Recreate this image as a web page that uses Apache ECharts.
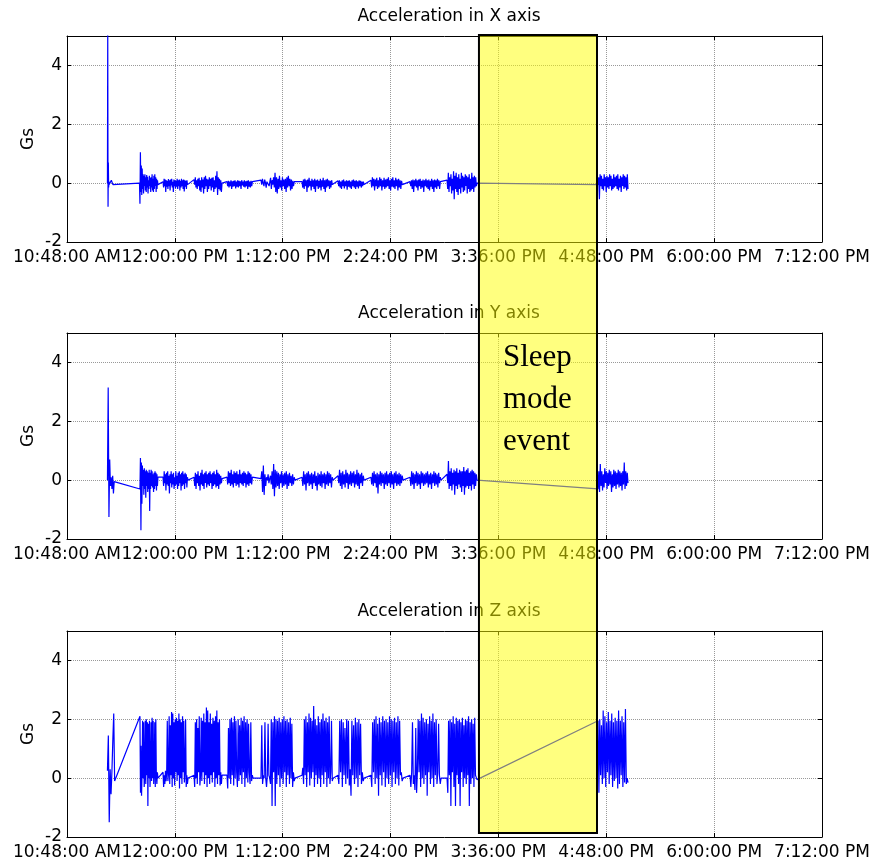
<!DOCTYPE html>
<html>
<head>
<meta charset="utf-8">
<script src="https://cdn.jsdelivr.net/npm/echarts@6/dist/echarts.min.js"></script>
<style>html,body{margin:0;padding:0;background:#fff}#c{width:880px;height:865px}</style>
</head>
<body>
<div id="c"></div>
<script>
// time axis: minutes after 10:48 AM
const tickLabels = ['10:48:00 AM','12:00:00 PM','1:12:00 PM','2:24:00 PM','3:36:00 PM','4:48:00 PM','6:00:00 PM','7:12:00 PM'];
const panelTitles = ['Acceleration in X axis','Acceleration in Y axis','Acceleration in Z axis'];
const yTicks = [-2, 0, 2, 4];
const sleepWindow = [275, 353.8];
const sleepText = 'Sleep\nmode\nevent';

// segments: [startMinute, endMinute, samples]
const xSegs = [
  [27.0, 28.2, [0, 5.3, -0.8, 0.7, -0.15, 0.05, -0.05]],
  [29.6, 31.2, [0.1, 0.05, -0.05, 0.0]],
  [48.4, 60.7, [0.0, -0.7, 1.05, -0.3, 0.6, -0.4, 0.5, -0.2, 0.3, -0.35, 0.25, -0.1, 0.3, -0.25, 0.2, -0.3, 0.28, -0.15, 0.22, -0.35, 0.1, -0.2, 0.25, -0.1, 0.18, -0.3, 0.2, -0.15, 0.3, -0.25, 0.15, -0.3, 0.25, -0.2, 0.3, -0.1, 0.2, -0.3, 0.15, -0.2, 0.1, -0.05]],
  [64.1, 80.8, [0.05, -0.15, 0.15, -0.1, 0.12, -0.3, 0.1, -0.12, 0.08, -0.2, 0.14, -0.1, 0.1, -0.25, 0.12, -0.08, 0.15, -0.15, 0.05, -0.3, 0.12, -0.1, 0.1, -0.18, 0.08, -0.12, 0.15, -0.2, 0.1, -0.1, 0.12, -0.25, 0.08, -0.15, 0.15, -0.1, 0.1, -0.2, 0.12, -0.28, 0.1, -0.12, 0.08, -0.2, 0.1, -0.05, 0.0]],
  [84.8, 103.5, [0.12, -0.05, 0.2, -0.15, 0.1, -0.2, 0.15, -0.1, 0.18, -0.25, 0.1, -0.3, 0.2, -0.15, 0.12, -0.35, 0.2, -0.2, 0.25, -0.1, 0.15, -0.3, 0.12, -0.2, 0.2, -0.1, 0.15, -0.25, 0.18, -0.15, 0.2, -0.3, 0.1, -0.2, 0.25, -0.15, 0.4, -0.4, 0.2, -0.2, 0.15, -0.25, 0.1, -0.3, 0.0]],
  [106.8, 124.2, [0.05, -0.1, 0.08, -0.15, 0.05, -0.1, 0.1, -0.2, 0.06, -0.12, 0.08, -0.1, 0.1, -0.18, 0.05, -0.12, 0.1, -0.15, 0.08, -0.1, 0.06, -0.2, 0.1, -0.08, 0.05, -0.12, 0.1, -0.15, 0.06, -0.1, 0.08, -0.2, 0.1, -0.12, 0.05, -0.15, 0.08, -0.1, 0.05, 0.0]],
  [129.5, 152.2, [0.1, -0.05, 0.15, 0.0, -0.1, 0.12, 0.02, -0.15, 0.05, 0.0, 0.1, -0.1, 0.05, 0.18, -0.2, 0.1, -0.05, 0.2, -0.15, 0.35, -0.3, 0.2, -0.35, 0.15, -0.2, 0.25, -0.15, 0.1, -0.25, 0.2, -0.1, 0.12, -0.2, 0.15, -0.3, 0.2, -0.15, 0.25, -0.1, 0.15, -0.25, 0.12, -0.2, 0.08, -0.1, 0.05, 0.0]],
  [156.9, 177.6, [0.05, -0.15, 0.12, -0.2, 0.15, -0.1, 0.1, -0.3, 0.12, -0.15, 0.18, -0.1, 0.08, -0.25, 0.15, -0.12, 0.1, -0.2, 0.15, -0.3, 0.1, -0.1, 0.12, -0.2, 0.08, -0.15, 0.15, -0.25, 0.1, -0.12, 0.18, -0.2, 0.1, -0.3, 0.12, -0.15, 0.15, -0.1, 0.1, -0.2, 0.08, -0.15, 0.1, -0.05, 0.0]],
  [180.9, 198.3, [0.08, -0.1, 0.1, -0.15, 0.05, -0.2, 0.1, -0.1, 0.12, -0.18, 0.06, -0.1, 0.1, -0.22, 0.08, -0.12, 0.1, -0.15, 0.05, -0.2, 0.1, -0.1, 0.12, -0.15, 0.08, -0.2, 0.1, -0.12, 0.06, -0.18, 0.1, -0.1, 0.08, -0.15, 0.05, -0.1, 0.05, -0.05]],
  [202.9, 224.3, [0.1, -0.15, 0.2, -0.1, 0.15, -0.25, 0.12, -0.1, 0.18, -0.2, 0.1, -0.15, 0.2, -0.1, 0.15, -0.25, 0.1, -0.12, 0.18, -0.2, 0.12, -0.15, 0.15, -0.1, 0.2, -0.2, 0.1, -0.25, 0.15, -0.12, 0.2, -0.15, 0.1, -0.2, 0.18, -0.1, 0.12, -0.25, 0.15, -0.15, 0.1, -0.2, 0.08, -0.05, 0.0]],
  [229.0, 249.7, [0.05, -0.1, 0.1, -0.2, 0.12, -0.3, 0.1, -0.1, 0.15, -0.15, 0.1, -0.25, 0.12, -0.1, 0.15, -0.2, 0.08, -0.15, 0.12, -0.3, 0.1, -0.1, 0.15, -0.15, 0.1, -0.2, 0.12, -0.25, 0.08, -0.12, 0.15, -0.2, 0.1, -0.3, 0.12, -0.15, 0.1, -0.2, 0.15, -0.1, 0.1, -0.2, 0.05, 0.0]],
  [253.7, 273.7, [0.1, -0.2, 0.35, -0.3, 0.2, -0.1, 0.3, -0.35, 0.15, -0.25, 0.4, -0.55, 0.25, -0.2, 0.35, -0.3, 0.2, -0.4, 0.3, -0.2, 0.15, -0.35, 0.35, -0.15, 0.25, -0.3, 0.2, -0.25, 0.3, -0.1, 0.25, -0.35, 0.2, -0.2, 0.3, -0.3, 0.15, -0.25, 0.35, -0.2, 0.2, -0.3, 0.25, -0.15, 0.2, -0.1, 0.0]],
  [354.5, 374.5, [-0.05, 0.2, -0.55, 0.3, -0.1, 0.25, -0.2, 0.15, -0.25, 0.3, -0.1, 0.2, -0.3, 0.25, -0.15, 0.2, -0.2, 0.3, -0.1, 0.25, -0.25, 0.15, -0.2, 0.3, -0.15, 0.2, -0.1, 0.25, -0.2, 0.3, -0.25, 0.15, -0.15, 0.25, -0.3, 0.2, -0.1, 0.3, -0.2, 0.25, -0.15, 0.2, -0.25, 0.3, -0.2]]
];

const ySegs = [
  [27.0, 31.5, [0, 3.15, -1.25, 0.7, -0.2, 0.1, -0.3, 0.15, -0.45, -0.05]],
  [48.7, 60.7, [-0.3, 0.75, -1.7, 0.6, -0.8, 0.5, -0.2, 0.35, -0.5, 0.4, -0.3, 0.3, -0.6, 0.35, -0.2, 0.3, -0.4, 0.25, -0.3, 0.35, -1.05, 0.25, -0.3, 0.35, -0.2, 0.3, -0.25, 0.2, -0.4, 0.25, -0.3, 0.3, -0.2, 0.25, -0.35, 0.2, -0.2, 0.1]],
  [64.1, 80.8, [0.1, -0.2, 0.3, -0.1, 0.2, -0.35, 0.25, -0.15, 0.3, -0.2, 0.15, -0.45, 0.2, -0.1, 0.3, -0.25, 0.2, -0.15, 0.25, -0.3, 0.1, -0.2, 0.3, -0.15, 0.15, -0.3, 0.25, -0.2, 0.3, -0.1, 0.2, -0.35, 0.25, -0.2, 0.3, -0.15, 0.2, -0.3, 0.25, -0.1, 0.2, -0.25, 0.1, 0.0]],
  [84.8, 103.5, [0.1, -0.2, 0.25, -0.3, 0.2, -0.1, 0.3, -0.2, 0.15, -0.35, 0.25, -0.15, 0.35, -0.2, 0.2, -0.3, 0.25, -0.1, 0.3, -0.25, 0.2, -0.15, 0.25, -0.2, 0.3, -0.1, 0.2, -0.3, 0.25, -0.2, 0.3, -0.15, 0.2, -0.25, 0.35, -0.2, 0.25, -0.3, 0.2, -0.15, 0.15, -0.1, 0.05]],
  [106.8, 124.2, [0.1, -0.15, 0.3, -0.1, 0.25, -0.2, 0.35, -0.15, 0.2, -0.25, 0.3, -0.1, 0.25, -0.2, 0.3, -0.15, 0.2, -0.25, 0.35, -0.1, 0.2, -0.15, 0.25, -0.2, 0.3, -0.1, 0.25, -0.25, 0.2, -0.15, 0.3, -0.2, 0.25, -0.1, 0.2, -0.15, 0.1, 0.05]],
  [129.5, 152.2, [0.05, 0.3, -0.4, 0.5, -0.5, 0.2, -0.2, 0.1, 0.0, 0.2, -0.1, 0.05, 0.15, -0.15, 0.3, -0.3, 0.55, -0.55, 0.35, -0.25, 0.3, -0.2, 0.25, -0.3, 0.2, -0.1, 0.3, -0.25, 0.2, -0.2, 0.25, -0.15, 0.3, -0.3, 0.2, -0.2, 0.25, -0.1, 0.15, -0.2, 0.2, -0.15, 0.1, 0.0]],
  [156.9, 177.6, [0.1, -0.2, 0.3, -0.15, 0.2, -0.35, 0.25, -0.1, 0.3, -0.2, 0.2, -0.15, 0.25, -0.3, 0.2, -0.1, 0.3, -0.2, 0.15, -0.35, 0.25, -0.15, 0.2, -0.2, 0.3, -0.25, 0.2, -0.1, 0.25, -0.3, 0.2, -0.15, 0.3, -0.2, 0.25, -0.1, 0.2, -0.25, 0.1, 0.0]],
  [180.9, 198.3, [0.15, -0.1, 0.35, -0.2, 0.25, -0.3, 0.3, -0.15, 0.2, -0.25, 0.35, -0.1, 0.25, -0.3, 0.2, -0.15, 0.3, -0.2, 0.25, -0.1, 0.3, -0.25, 0.2, -0.15, 0.35, -0.2, 0.25, -0.3, 0.2, -0.1, 0.25, -0.2, 0.15, 0.0]],
  [202.9, 224.3, [0.1, -0.15, 0.25, -0.2, 0.3, -0.1, 0.2, -0.25, 0.25, -0.45, 0.2, -0.15, 0.3, -0.2, 0.25, -0.1, 0.2, -0.3, 0.25, -0.15, 0.3, -0.2, 0.2, -0.1, 0.25, -0.25, 0.3, -0.15, 0.2, -0.3, 0.25, -0.1, 0.3, -0.2, 0.2, -0.15, 0.25, -0.2, 0.2, -0.1, 0.15, 0.0]],
  [229.0, 249.7, [0.1, -0.2, 0.3, -0.15, 0.25, -0.3, 0.2, -0.1, 0.3, -0.2, 0.25, -0.15, 0.2, -0.3, 0.3, -0.1, 0.25, -0.2, 0.2, -0.15, 0.25, -0.1, 0.3, -0.25, 0.2, -0.15, 0.25, -0.3, 0.2, -0.1, 0.3, -0.2, 0.25, -0.15, 0.2, -0.25, 0.25, -0.1, 0.1, 0.0]],
  [253.7, 273.7, [0.2, -0.1, 0.65, -0.3, 0.3, -0.2, 0.4, -0.35, 0.25, -0.15, 0.35, -0.5, 0.3, -0.2, 0.4, -0.3, 0.25, -0.15, 0.35, -0.25, 0.3, -0.4, 0.3, -0.2, 0.45, -0.5, 0.3, -0.25, 0.35, -0.2, 0.4, -0.3, 0.25, -0.2, 0.3, -0.35, 0.35, -0.15, 0.3, -0.3, 0.25, -0.2, 0.2, 0.0]],
  [354.5, 374.5, [-0.3, 0.3, -0.4, 0.55, -0.2, 0.3, -0.35, 0.2, -0.25, 0.4, -0.1, 0.3, -0.3, 0.25, -0.2, 0.35, -0.15, 0.3, -0.4, 0.2, -0.25, 0.35, -0.2, 0.3, -0.3, 0.25, -0.15, 0.35, -0.25, 0.3, -0.2, 0.25, -0.35, 0.3, -0.15, 0.6, -0.3, 0.3, -0.2, 0.25, -0.1]]
];

const zSegs = [
  [27.0, 31.8, [0.25, 1.45, -1.5, 0.3, -0.55, 0.25, 1.3, 2.2, -0.1]],
  [48.7, 60.7, [2.1, -0.5, 1.1, -0.6, 0.2, 1.95, 0.0, 1.9, -0.3, 0.1, 1.95, -0.2, 2.0, 0.1, 1.9, -0.95, 1.85, 0.0, 1.95, -0.3, 0.2, 1.9, -0.1, 2.05, 0.0, 1.95, -0.2, 0.2, 1.9, -0.3, 2.0, 0.1, -0.2, 0.2, 0.0]],
  [64.1, 80.8, [0.2, -0.3, 0.1, -0.2, 0.25, -0.1, 0.2, 1.95, -0.1, 0.15, 2.1, -0.2, 1.8, 0.1, 2.25, -0.3, 2.2, 0.0, 1.9, -0.25, 2.0, 0.2, 2.05, -0.1, 1.95, 0.1, 2.2, -0.35, 2.0, 0.0, 1.9, -0.2, 2.1, 0.2, 1.95, -0.15, 0.2, 2.0, -0.3, 0.1, -0.2, 0.0]],
  [84.8, 103.5, [0.1, -0.3, 1.9, 0.0, 2.0, -0.2, 1.7, 0.2, 2.1, -0.25, 0.1, 2.05, -0.1, 1.95, 0.2, 2.2, -0.2, 1.9, 0.1, 2.4, -0.3, 2.3, 0.0, 1.9, -0.2, 2.2, 0.1, 1.85, -0.15, 2.05, 0.2, 1.95, -0.3, 2.1, 0.0, 2.3, -0.2, 1.9, 0.1, 2.0, -0.25, 0.2, -0.2, 0.1]],
  [106.8, 124.2, [0.1, -0.35, 1.7, 0.0, 2.0, -0.2, 2.05, 0.1, 1.9, -0.25, 2.1, 0.0, 1.95, 0.2, -0.3, 2.0, -0.1, 1.8, 0.1, 2.05, -0.2, 1.95, 0.2, 2.1, -0.3, 1.9, 0.0, 2.0, -0.15, 1.85, 0.2, -0.2, 1.9, -0.1, 0.1, 0.0]],
  [129.5, 152.2, [0.0, 1.8, -0.2, 0.1, 0.0, 1.9, 0.0, -0.3, 0.1, 1.85, 0.1, 0.0, -0.2, 2.0, -0.95, 1.9, 0.2, 2.1, -0.95, 2.0, -0.2, 1.95, 0.1, 2.05, -0.3, 1.9, 0.0, 2.0, -0.2, 2.1, 0.2, 1.95, -0.3, 2.0, 0.1, 1.9, -0.2, 2.05, 0.0, 1.85, -0.3, 0.2, -0.1, 0.0]],
  [156.9, 177.6, [0.1, 0.35, -0.2, 2.0, 0.1, 2.1, -0.3, 1.9, 0.2, 2.2, -0.25, 2.05, 0.0, 1.95, 0.2, 2.45, -0.3, 2.0, 0.1, 1.8, -0.2, 2.1, 0.0, 1.9, -0.3, 2.0, 0.1, 2.2, -0.2, 1.95, 0.2, 2.05, -0.3, 1.9, 0.0, 2.1, -0.2, 0.2, 1.95, -0.1, 0.0]],
  [180.9, 198.3, [0.1, -0.2, 1.95, 0.2, 2.0, -0.3, 1.9, 0.1, 1.7, -0.2, 2.0, 0.0, 1.95, -0.25, 0.3, -0.6, 1.95, 0.1, 1.8, -0.2, 2.05, 0.0, 1.9, -0.3, 2.0, 0.1, 1.85, -0.2, 0.2, -0.1, 0.0]],
  [202.9, 224.3, [0.1, -0.3, 1.9, 0.2, 2.0, -0.2, 2.1, 0.0, 1.85, -0.6, 2.05, 0.1, 1.9, -0.25, 2.1, 0.2, 1.95, -0.3, 2.0, 0.0, 1.9, -0.2, 2.1, 0.1, 2.0, -0.3, 1.95, 0.2, 2.05, -0.2, 1.9, 0.0, 2.1, -0.25, 1.95, 0.1, 0.2, -0.1, 0.0]],
  [229.0, 249.7, [0.1, -0.3, 0.2, 1.9, -0.2, 0.1, -0.4, 1.7, -0.5, 0.2, 2.0, 0.2, 1.95, -0.3, 2.2, 0.0, 2.05, -0.2, 1.9, 0.1, 2.0, -0.6, 1.85, 0.2, 2.1, -0.2, 1.95, 0.0, 2.2, -0.3, 1.9, 0.1, 2.0, -0.2, 0.2, 1.85, 0.1, -0.2, 0.0]],
  [253.7, 273.7, [0.0, -0.5, 1.95, 0.1, 2.0, -0.95, 1.9, 0.2, 2.1, -0.3, 1.85, -0.95, 2.05, 0.1, 1.95, -0.2, 2.0, -0.95, 1.9, 0.2, 2.05, -0.3, 1.8, 0.0, 2.0, -0.2, 1.95, 0.1, 2.1, -0.95, 1.9, -0.2, 2.0, 0.0, 1.85, -0.3, 2.05, 0.1, 0.1, -0.05]],
  [354.5, 374.5, [1.95, -0.5, 2.0, 0.1, 1.8, -0.2, 2.3, 0.0, 2.1, -0.3, 1.9, 0.2, 2.25, -0.2, 1.95, 0.1, 2.2, -0.3, 1.9, -0.1, 2.05, 0.0, 1.95, -0.35, 2.3, -0.2, 1.95, 0.1, 2.1, -0.3, 1.9, -0.15, 2.35, -0.2, 0.0, -0.15]]
];

function toPoints(segs) {
  const pts = [];
  segs.forEach(([t0, t1, vals]) => {
    const n = vals.length;
    vals.forEach((v, i) => {
      const t = n > 1 ? t0 + (t1 - t0) * i / (n - 1) : t0;
      pts.push([t, v]);
    });
  });
  return pts;
}

const FONT = 'DejaVu Sans';
const gridTops = [36, 333, 631];
const PLOT_H = 206;
const allSegs = [xSegs, ySegs, zSegs];

const chart = echarts.init(document.getElementById('c'), null, {renderer: 'canvas'});

const grids = [], xAxes = [], yAxes = [], series = [], titles = [];
gridTops.forEach((top, g) => {
  grids.push({left: 67, width: 755, top: top, height: PLOT_H, containLabel: false});
  titles.push({text: panelTitles[g], left: 444, top: top - 33, textAlign: 'center',
    textStyle: {fontFamily: FONT, fontSize: 17, fontWeight: 'normal', color: '#000'}});
  xAxes.push({type: 'value', gridIndex: g, min: 0, max: 504, interval: 72, position: 'bottom',
    axisLine: {show: true, onZero: false, lineStyle: {color: '#000', width: 1}},
    axisTick: {show: true, inside: true, length: 4, lineStyle: {color: '#000'}},
    axisLabel: {show: true, margin: 7, fontFamily: FONT, fontSize: 17, color: '#000', hideOverlap: false,
      formatter: v => tickLabels[Math.round(v / 72)]},
    splitLine: {show: true, lineStyle: {color: '#999', type: 'dotted', width: 1}}});
  xAxes.push({type: 'value', gridIndex: g, min: 0, max: 504, interval: 72, position: 'top',
    axisLine: {show: true, onZero: false, lineStyle: {color: '#000', width: 1}},
    axisTick: {show: true, inside: true, length: 4, lineStyle: {color: '#000'}},
    axisLabel: {show: false}, splitLine: {show: false}});
  yAxes.push({type: 'value', gridIndex: g, min: -2, max: 5, interval: 2, position: 'left',
    name: 'Gs', nameLocation: 'middle', nameGap: 30, nameMoveOverlap: false,
    nameTextStyle: {fontFamily: FONT, fontSize: 17, color: '#000'},
    axisLine: {show: true, onZero: false, lineStyle: {color: '#000', width: 1}},
    axisTick: {show: true, inside: true, length: 4, lineStyle: {color: '#000'}},
    axisLabel: {show: true, margin: 5, showMaxLabel: false, fontFamily: FONT, fontSize: 17, color: '#000',
      formatter: v => (yTicks.indexOf(v) >= 0 ? String(v) : '')},
    splitLine: {show: true, lineStyle: {color: '#999', type: 'dotted', width: 1}}});
  yAxes.push({type: 'value', gridIndex: g, min: -2, max: 5, interval: 2, position: 'right',
    axisLine: {show: true, onZero: false, lineStyle: {color: '#000', width: 1}},
    axisTick: {show: true, inside: true, length: 4, lineStyle: {color: '#000'}},
    axisLabel: {show: false}, splitLine: {show: false}});
  series.push({type: 'line', xAxisIndex: g * 2, yAxisIndex: g * 2, data: toPoints(allSegs[g]),
    showSymbol: false, symbol: 'none', sampling: null, clip: true,
    lineStyle: {color: '#0000ff', width: 1.2}, animation: false, z: 3});
});

chart.setOption({
  animation: false,
  backgroundColor: '#fff',
  title: titles,
  grid: grids,
  xAxis: xAxes,
  yAxis: yAxes,
  series: series
});

const pTop = chart.convertToPixel({gridIndex: 0}, [sleepWindow[0], 5]);
const pBot = chart.convertToPixel({gridIndex: 2}, [sleepWindow[1], -1.86]);
const pMid = chart.convertToPixel({gridIndex: 1}, [sleepWindow[0], 5]);
chart.setOption({
  graphic: [
    {type: 'rect', z: 100, silent: true,
      shape: {x: pTop[0], y: pTop[1] - 1, width: pBot[0] - pTop[0], height: pBot[1] - pTop[1] + 1},
      style: {fill: 'rgba(255,255,0,0.5)', stroke: '#000', lineWidth: 2}},
    {type: 'text', z: 101, silent: true, x: pTop[0] + 24, y: pMid[1] + 4,
      style: {text: sleepText, font: '31px "Liberation Serif", "Times New Roman", serif',
        fill: '#000', lineHeight: 42, verticalAlign: 'top', align: 'left'}}
  ]
});
</script>
</body>
</html>
